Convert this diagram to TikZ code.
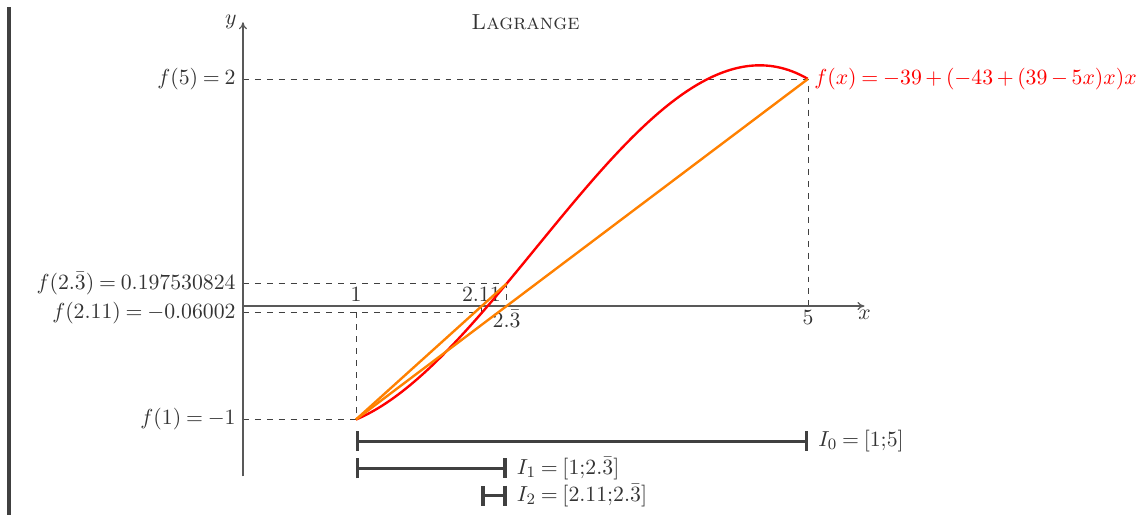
\documentclass[tikz,border=0pt]{standalone}
\usetikzlibrary{arrows.meta}
\begin{document}
\thickmuskip=4mu plus 2mu
\medmuskip=3mu plus 1mu
\begin{tikzpicture}[x=2cm,y=2.009cm,
  font=\fontsize{11}{13}\selectfont,
  axisline/.style={draw=black!65, line width=0.6pt, -{To[length=3.5pt,width=4pt]}},
  guide/.style={draw=black!75, dashed, dash pattern=on 3pt off 3pt, line width=0.45pt},
  curve/.style={red, line width=1.2pt},
  secant/.style={orange, line width=1.2pt},
  interval/.style={draw=black!75, line width=1.6pt, {Bar[width=10pt]}-{Bar[width=10pt]}},
  lbl/.style={text=black!80, inner sep=2pt},
  ylbl/.style={text=black!80, inner sep=3.5pt, anchor=east}]
\useasboundingbox (-2.150,-1.841) rectangle (7.903,2.696);
% left bar
\coordinate (bartop) at (-2.07,2.634);
\coordinate (barbot) at (-2.07,-1.841);
\draw[draw=black!75, line width=2pt] (bartop) -- (barbot);
% key points
\coordinate (O) at (0,0);
\coordinate (xend) at (5.5,0);
\coordinate (ybot) at (0,-1.5);
\coordinate (yend) at (0,2.5);
\coordinate (A) at (1,-1);
\coordinate (B) at (5,2);
\coordinate (C) at (7/3,0.197530824);
\coordinate (D) at (2.11,-0.06002);
\coordinate (A0) at (1,0);
\coordinate (B0) at (5,0);
\coordinate (C0) at (7/3,0);
\coordinate (D0) at (2.11,0);
\coordinate (Ay) at (0,-1);
\coordinate (By) at (0,2);
\coordinate (Cy) at (0,0.197530824);
\coordinate (Dy) at (0,-0.06002);
% guides
\draw[guide] (By) -- (B) -- (B0);
\draw[guide] (Ay) -- (A) -- (A0);
\draw[guide] (Cy) -- (C) -- (C0);
\draw[guide] (Dy) -- (D) -- (D0);
% axes
\draw[axisline] (O) -- (xend);
\draw[axisline] (ybot) -- (yend);
\node[lbl, below] (xl) at (xend) {$x$};
\node[lbl, left, inner sep=3pt] (yl) at (yend) {$y$};
% tick labels
\node[lbl, above] (t1) at (A0) {$1$};
\node[lbl, above] (t211) at (D0) {$2.11$};
\node[lbl, below] (t233) at (C0) {$2.\bar{3}$};
\node[lbl, below] (t5) at (B0) {$5$};
% y labels
\node[ylbl] (f5) at (By) {$f(5) = 2$};
\node[ylbl] (f233) at (Cy) {$f(2.\bar{3}) = 0.197530824$};
\node[ylbl] (f211) at (Dy) {$f(2.11) = -0.06002$};
\node[ylbl] (f1) at (Ay) {$f(1) = -1$};
% title
\node[lbl] (title) at (2.5,2.5) {\textsc{Lagrange}};
% curve and secants
\draw[curve, domain=1:5, samples=120, smooth] plot (\x, {(-39-43*\x+39*\x*\x-5*\x*\x*\x)/48});
\draw[secant] (A) -- (B);
\draw[secant] (A) -- (C);
\node[text=red, right, inner sep=3pt, font=\fontsize{10.5}{12}\selectfont] (fl) at (B) {$\medmuskip=3mu \thickmuskip=4mu f(x) = -39 + (-43 + (39 - 5x)x)x$};
% intervals
\coordinate (I0a) at (1,-1.19);
\coordinate (I0b) at (5,-1.19);
\coordinate (I1a) at (1,-1.43);
\coordinate (I1b) at (7/3,-1.43);
\coordinate (I2a) at (2.11,-1.67);
\coordinate (I2b) at (7/3,-1.67);
\draw[interval] (I0a) -- (I0b);
\draw[interval] (I1a) -- (I1b);
\draw[interval] (I2a) -- (I2b);
\node[lbl, right, inner sep=5pt] (l0) at (I0b) {$I_0 = [1{;}5]$};
\node[lbl, right, inner sep=5pt] (l1) at (I1b) {$I_1 = [1{;}2.\bar{3}]$};
\node[lbl, right, inner sep=5pt] (l2) at (I2b) {$I_2 = [2.11{;}2.\bar{3}]$};
\end{tikzpicture}
\end{document}
